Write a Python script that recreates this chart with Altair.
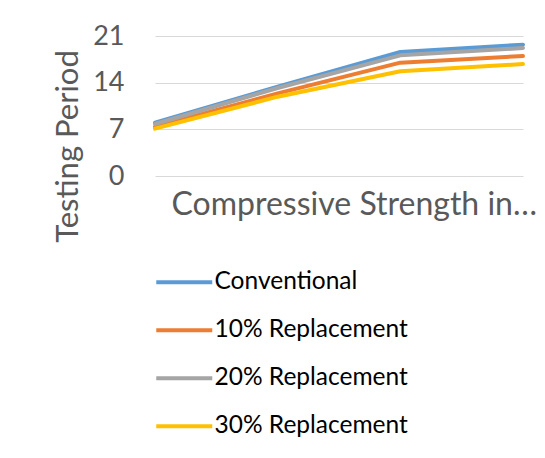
import altair as alt
import pandas as pd

points = ["P1", "P2", "P3", "P4"]
series = ["Conventional", "10% Replacement", "20% Replacement", "30% Replacement"]
conventional = [8.0, 13.4, 18.6, 19.7]
repl10 = [7.4, 12.4, 17.0, 18.0]
repl20 = [7.8, 13.2, 18.1, 19.2]
repl30 = [7.1, 11.9, 15.7, 16.8]
colors = ["#5B9BD5", "#ED7D31", "#A5A5A5", "#FFC000"]
y_ticks = [0, 7, 14, 21]

rows = []
for name, vals in zip(series, [conventional, repl10, repl20, repl30]):
    for i, (p, v) in enumerate(zip(points, vals)):
        rows.append({"point": p, "series": name, "value": v, "order": i})
df = pd.DataFrame(rows)

chart = alt.Chart(df).mark_line(strokeWidth=4, strokeCap="round", strokeJoin="round").encode(
    x=alt.X("point:O", sort=points, scale=alt.Scale(type="point", padding=0),
            axis=alt.Axis(title="Compressive Strength in…", labels=False, ticks=False, domain=False,
                          grid=False, titleFont="Lato", titleFontSize=32, titleFontWeight="normal",
                          titleColor="#595959", titleAlign="left", titleAnchor="start",
                          titleX=16, titleY=38, titleBaseline="alphabetic", titleLimit=600)),
    y=alt.Y("value:Q", scale=alt.Scale(domain=[0, 21], nice=False),
            axis=alt.Axis(title="Testing Period", values=y_ticks, ticks=False, domain=False,
                          grid=True, gridColor="#D9D9D9", gridWidth=1,
                          labelFont="Lato", labelFontSize=27, labelColor="#595959", labelPadding=31,
                          titleFont="Lato", titleFontSize=31, titleFontWeight="normal",
                          titleColor="#595959", titleAngle=270, titleAlign="center",
                          titleBaseline="alphabetic", titleX=-78, titleY=110, titleLimit=600)),
    color=alt.Color("series:N", sort=series,
                    scale=alt.Scale(domain=series, range=colors),
                    legend=alt.Legend(title=None, orient="none", legendX=35, legendY=234,
                                      symbolType="M-4.6,0H1", symbolSize=400, symbolStrokeWidth=4,
                                      labelFont="Lato", labelFontSize=24.5, labelColor="#000000",
                                      labelOffset=0, rowPadding=23, padding=0, labelLimit=400)),
    order="order:Q",
).properties(
    width=368, height=140,
    autosize=alt.AutoSizeParams(type="none"),
    padding={"left": 147, "top": 28, "right": 14, "bottom": 274},
).configure(background="white").configure_view(stroke=None)

chart.save("out.html", embed_options={"renderer": "svg", "actions": False})
